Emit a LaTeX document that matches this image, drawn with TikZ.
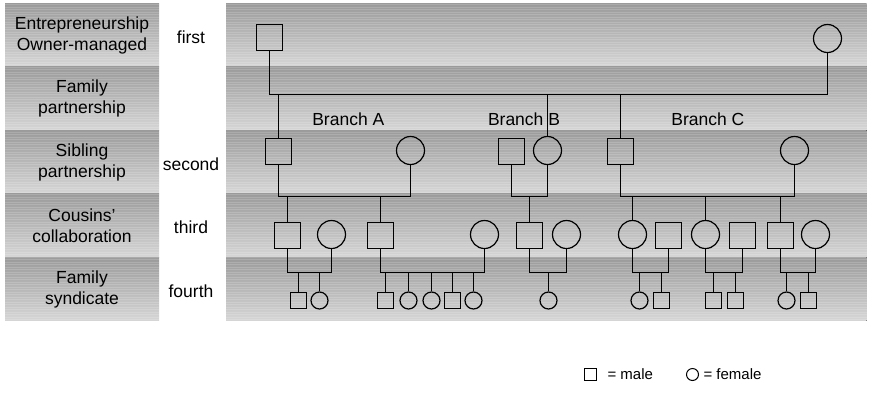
\documentclass[tikz,border=0pt]{standalone}
\usepackage{fontspec}
\setmainfont{Liberation Sans}
\definecolor{bandtop}{RGB}{155,155,155}
\definecolor{bandbot}{RGB}{214,214,214}
\begin{document}
\begin{tikzpicture}[x=1bp,y=-1bp]
\tikzset{
  band/.style={top color=bandtop, bottom color=bandbot, draw=none},
  male/.style={draw, rectangle, line width=1.2bp, minimum size=26bp, inner sep=0pt},
  female/.style={draw, circle, line width=1.2bp, minimum size=28bp, inner sep=0pt},
  smale/.style={male, minimum size=16bp},
  sfemale/.style={female, minimum size=17bp},
  lmale/.style={male, minimum size=12bp, line width=1bp},
  lfemale/.style={female, minimum size=12bp, line width=1bp},
  lbl/.style={font=\fontsize{17.5bp}{21bp}\selectfont, align=center, inner sep=0pt},
  leg/.style={font=\fontsize{15bp}{18bp}\selectfont, inner sep=0pt, anchor=west},
  link/.style={line width=1.2bp},
  stripe/.style={white, opacity=0.16, line width=1bp}
}
\useasboundingbox (0,0) rectangle (869,397);
% bands
\foreach \i in {0,...,4} {
  \pgfmathsetmacro{\yt}{3.5+\i*63.46}
  \pgfmathsetmacro{\yb}{\yt+63.46}
  \fill[band] (5,\yt) rectangle (159,\yb);
  \fill[band] (226,\yt) rectangle (866.7,\yb);
}
\foreach \y in {4.5,7,...,320} {
  \draw[stripe] (5,\y) -- (159,\y);
  \draw[stripe] (226,\y) -- (866.7,\y);
}
% left labels
\node[lbl] (s1) at (82,35.2) {Entrepreneurship\\Owner-managed};
\node[lbl] (s2) at (82,98.7) {Family\\partnership};
\node[lbl] (s3) at (82,162.1) {Sibling\\partnership};
\node[lbl] (s4) at (82,225.6) {Cousins'\\collaboration};
\node[lbl] (s5) at (82,289.1) {Family\\syndicate};
% generation labels
\node[lbl] (n1) at (191,37.7) {first};
\node[lbl] (n2) at (191,164) {second};
\node[lbl] (n3) at (191,227.7) {third};
\node[lbl] (n4) at (191,291) {fourth};
% branch labels
\node[lbl] (bA) at (348.3,119) {Branch A};
\node[lbl] (bB) at (524,119) {Branch B};
\node[lbl] (bC) at (707.8,119) {Branch C};
% marriage levels
\coordinate (m1) at (0,94.5);
\coordinate (m2) at (0,196.5);
\coordinate (m3) at (0,272.5);
% generation 1
\node[male] (g1m) at (269.5,37.5) {};
\node[female] (g1f) at (827.5,38.5) {};
% generation 2
\node[male] (g2Am) at (278.5,151.5) {};
\node[female] (g2Af) at (410.5,150.5) {};
\node[male] (g2Bm) at (511.5,151.5) {};
\node[female] (g2Bf) at (547.5,150.5) {};
\node[male] (g2Cm) at (620.5,151.5) {};
\node[female] (g2Cf) at (794.5,150.5) {};
% generation 3
\node[male] (g3A1m) at (287.5,235.5) {};
\node[female] (g3A1f) at (331.5,234.5) {};
\node[male] (g3A2m) at (380.5,235.5) {};
\node[female] (g3A2f) at (484.5,234.5) {};
\node[male] (g3Bm) at (529.5,235.5) {};
\node[female] (g3Bf) at (566.5,234.5) {};
\node[female] (g3C1f) at (632.5,234.5) {};
\node[male] (g3C1m) at (668.5,235.5) {};
\node[female] (g3C2f) at (705.5,234.5) {};
\node[male] (g3C2m) at (742.5,235.5) {};
\node[male] (g3C3m) at (780.5,235.5) {};
\node[female] (g3C3f) at (815.5,234.5) {};
% generation 4
\node[smale] (k1) at (298.5,300.5) {};
\node[sfemale] (k2) at (319.5,300.5) {};
\node[smale] (k3) at (385.5,300.5) {};
\node[sfemale] (k4) at (408.5,300.5) {};
\node[sfemale] (k5) at (431.5,300.5) {};
\node[smale] (k6) at (452.5,300.5) {};
\node[sfemale] (k7) at (473.5,300.5) {};
\node[sfemale] (k8) at (548.5,300.5) {};
\node[sfemale] (k9) at (639.5,300.5) {};
\node[smale] (k10) at (661.5,300.5) {};
\node[smale] (k11) at (713.5,300.5) {};
\node[smale] (k12) at (735.5,300.5) {};
\node[sfemale] (k13) at (786.5,300.5) {};
\node[smale] (k14) at (808.5,300.5) {};
% couples
\draw[link] (g1m.south) |- (g1f.south |- m1) -- (g1f.south);
\draw[link] (g2Am.south) |- (g2Af.south |- m2) -- (g2Af.south);
\draw[link] (g2Bm.south) |- (g2Bf.south |- m2) -- (g2Bf.south);
\draw[link] (g2Cm.south) |- (g2Cf.south |- m2) -- (g2Cf.south);
\draw[link] (g3A1m.south) |- (g3A1f.south |- m3) -- (g3A1f.south);
\draw[link] (g3A2m.south) |- (g3A2f.south |- m3) -- (g3A2f.south);
\draw[link] (g3Bm.south) |- (g3Bf.south |- m3) -- (g3Bf.south);
\draw[link] (g3C1f.south) |- (g3C1m.south |- m3) -- (g3C1m.south);
\draw[link] (g3C2f.south) |- (g3C2m.south |- m3) -- (g3C2m.south);
\draw[link] (g3C3m.south) |- (g3C3f.south |- m3) -- (g3C3f.south);
% descent from generation 1
\foreach \c in {g2Am,g2Bf,g2Cm}
  \draw[link] (\c.north) -- (\c.north |- m1);
% descent from generation 2
\foreach \c in {g3A1m,g3A2m,g3Bm,g3C1f,g3C2f,g3C3m}
  \draw[link] (\c.north) -- (\c.north |- m2);
% descent from generation 3
\foreach \c in {k1,k2,k3,k4,k5,k6,k7,k8,k9,k10,k11,k12,k13,k14}
  \draw[link] (\c.north) -- (\c.north |- m3);
% legend
\node[lmale] (lm) at (590.5,374.5) {};
\node[leg] (lmt) at (607.3,374) {= male};
\node[lfemale] (lf) at (692.5,374.5) {};
\node[leg] (lft) at (703.3,374) {= female};
\end{tikzpicture}
\end{document}
